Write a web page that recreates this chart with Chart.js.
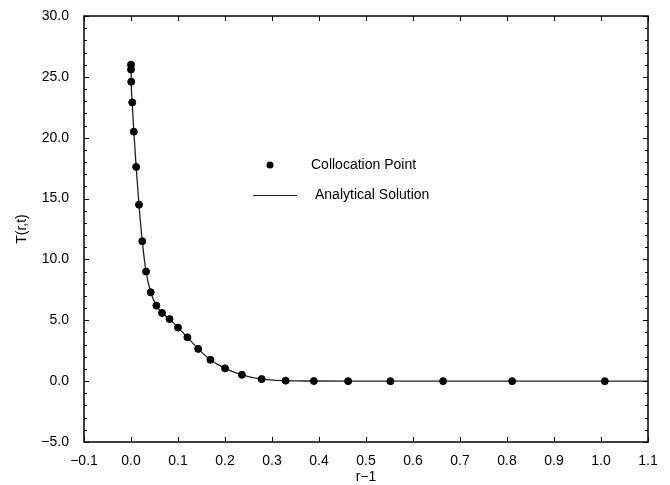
<!DOCTYPE html>
<html>
<head>
<meta charset="utf-8">
<script src="https://cdn.jsdelivr.net/npm/chart.js@4"></script>
<style>
  html, body { margin: 0; padding: 0; background: #fff; }
  #wrap { width: 670px; height: 485px; }
</style>
</head>
<body>
<div id="wrap"><canvas id="chart"></canvas></div>
<script>
// collocation points
const collocationR = [0.000, 0.000, 0.0005, 0.0026, 0.006, 0.011, 0.017, 0.024, 0.032, 0.042,
  0.054, 0.066, 0.082, 0.100, 0.120, 0.143, 0.169, 0.200, 0.236, 0.278,
  0.329, 0.389, 0.462, 0.552, 0.664, 0.811, 1.008];
const collocationT = [26.0, 25.6, 24.6, 22.9, 20.5, 17.6, 14.5, 11.5, 9.0, 7.3,
  6.2, 5.6, 5.1, 4.4, 3.6, 2.65, 1.75, 1.05, 0.52, 0.17,
  0.04, 0.01, 0, 0, 0, 0, 0];

// analytical solution curve
const analyticalR = [0.000, 0.0005, 0.0026, 0.006, 0.011, 0.017, 0.024, 0.032, 0.042,
  0.054, 0.066, 0.082, 0.100, 0.120, 0.143, 0.169, 0.200, 0.236, 0.278,
  0.329, 0.389, 0.462, 0.552, 0.664, 0.811, 1.008, 1.1];
const analyticalT = [26.0, 24.6, 22.9, 20.5, 17.6, 14.5, 11.5, 9.0, 7.3,
  6.2, 5.6, 5.1, 4.4, 3.6, 2.65, 1.75, 1.05, 0.52, 0.17,
  0.04, 0.01, 0, 0, 0, 0, 0, 0];

const legendLabels = ['Collocation Point', 'Analytical Solution'];

const FONT = '"Liberation Sans", Arial, Helvetica, sans-serif';

const fmt = (v) => v.toFixed(1).replace('-', '\u2212');

// box + inward ticks
const frameTicks = {
  id: 'frameTicks',
  afterDraw(chart) {
    const { ctx, chartArea: a, scales } = chart;
    const x = scales.x, y = scales.y;
    ctx.save();
    ctx.strokeStyle = '#000';
    ctx.lineWidth = 1.5;
    ctx.strokeRect(a.left, a.top, a.right - a.left, a.bottom - a.top);
    ctx.lineWidth = 1;
    ctx.beginPath();
    x.ticks.forEach((t) => {
      const px = Math.round(x.getPixelForValue(t.value)) + 0.5;
      ctx.moveTo(px, a.bottom); ctx.lineTo(px, a.bottom - 5);
      ctx.moveTo(px, a.top); ctx.lineTo(px, a.top + 5);
    });
    for (let v = y.min; v <= y.max; v += 1) {
      const py = Math.round(y.getPixelForValue(v)) + 0.5;
      const len = (v % 5 === 0) ? 5 : 3;
      ctx.moveTo(a.left, py); ctx.lineTo(a.left + len, py);
      ctx.moveTo(a.right, py); ctx.lineTo(a.right - len, py);
    }
    ctx.stroke();
    ctx.restore();
  }
};

// legend drawn inside the plot
const innerLegend = {
  id: 'innerLegend',
  afterDraw(chart) {
    const { ctx } = chart;
    ctx.save();
    ctx.font = '14px ' + FONT;
    ctx.fillStyle = '#000';
    ctx.textBaseline = 'middle';
    ctx.beginPath();
    ctx.arc(270, 165, 3.5, 0, Math.PI * 2);
    ctx.fill();
    ctx.fillText(legendLabels[0], 311, 165);
    ctx.strokeStyle = '#222';
    ctx.lineWidth = 1.2;
    ctx.beginPath();
    ctx.moveTo(253, 195.5); ctx.lineTo(297, 195.5);
    ctx.stroke();
    ctx.fillText(legendLabels[1], 315, 195);
    ctx.restore();
  }
};

new Chart(document.getElementById('chart'), {
  type: 'scatter',
  data: {
    datasets: [
      {
        label: legendLabels[0],
        data: collocationR.map((r, i) => ({ x: r, y: collocationT[i] })),
        backgroundColor: '#000',
        borderColor: '#000',
        pointRadius: 3.5,
        showLine: false,
      },
      {
        label: legendLabels[1],
        data: analyticalR.map((r, i) => ({ x: r, y: analyticalT[i] })),
        borderColor: '#222',
        borderWidth: 1.3,
        pointRadius: 0,
        showLine: true,
        cubicInterpolationMode: 'monotone',
      },
    ],
  },
  plugins: [frameTicks, innerLegend],
  options: {
    responsive: true,
    maintainAspectRatio: false,
    animation: false,
    layout: { padding: { left: 0, top: 16, right: 22, bottom: 0 } },
    plugins: { legend: { display: false }, tooltip: { enabled: false } },
    scales: {
      x: {
        type: 'linear',
        min: -0.1,
        max: 1.1,
        grid: { display: false, drawTicks: false },
        border: { display: false },
        ticks: {
          stepSize: 0.1,
          padding: 11,
          color: '#000',
          font: { family: FONT, size: 14 },
          maxRotation: 0,
          autoSkip: false,
          callback: (v) => fmt(v),
        },
        title: {
          display: true,
          text: 'r\u22121',
          color: '#000',
          font: { family: FONT, size: 14 },
          padding: { top: 0, bottom: -1 },
        },
        afterFit(scale) {
          scale.height = 43;
          scale.paddingLeft = 0;
          scale.paddingRight = 0;
        },
      },
      y: {
        type: 'linear',
        min: -5,
        max: 30,
        grid: { display: false, drawTicks: false },
        border: { display: false },
        ticks: {
          stepSize: 5,
          padding: 15,
          color: '#000',
          font: { family: FONT, size: 14 },
          callback: (v) => fmt(v),
        },
        title: {
          display: true,
          text: 'T(r,t)',
          color: '#000',
          font: { family: FONT, size: 14 },
          padding: { top: 14, bottom: 0 },
        },
        afterFit(scale) {
          scale.width = 84;
          scale.paddingTop = 0;
          scale.paddingBottom = 0;
        },
      },
    },
  },
});
</script>
</body>
</html>
